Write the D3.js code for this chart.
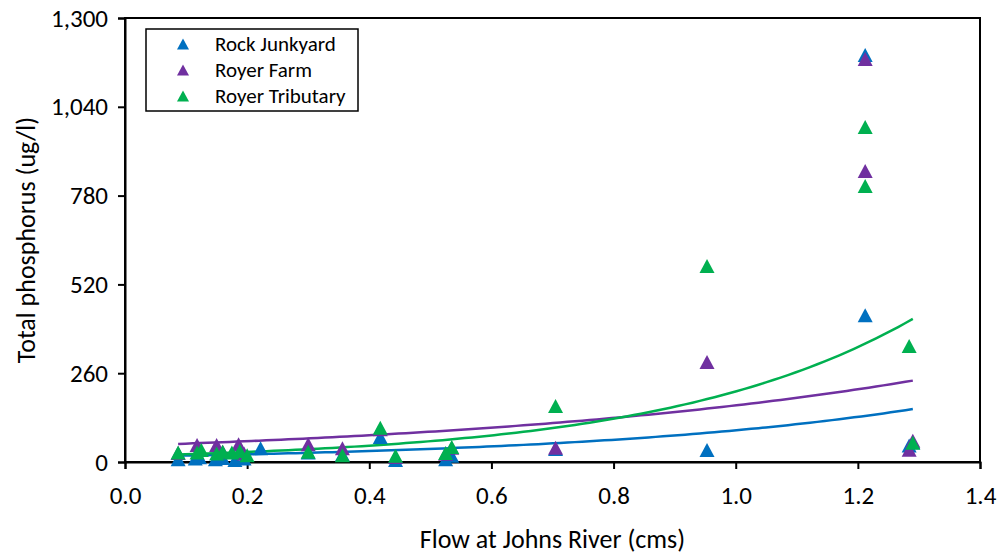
<!DOCTYPE html>
<html>
<head>
<meta charset="utf-8">
<script src="https://cdn.jsdelivr.net/npm/d3@7"></script>
<style>
  html, body { margin: 0; padding: 0; background: #fff; }
  svg { display: block; font-family: Carlito, "Open Sans", sans-serif; }
</style>
</head>
<body>
<svg id="chart" width="1000" height="556"></svg>
<script>
// Series names and colours
const seriesNames = ["Rock Junkyard", "Royer Farm", "Royer Tributary"];
const seriesColors = ["#0070C0", "#7030A0", "#00B050"];

// Rock Junkyard samples: flow (cms) and total phosphorus (ug/l)
const flowRockJunkyard = [0.087, 0.115, 0.122, 0.148, 0.160, 0.180, 0.195, 0.222, 0.300, 0.356, 0.418, 0.443, 0.525, 0.535, 0.705, 0.953, 1.212, 1.212, 1.284, 1.290];
const tpRockJunkyard   = [8, 10, 14, 8, 12, 6, 10, 40, 28, 22, 73, 6, 8, 18, 38, 35, 1192, 430, 48, 58];

// Royer Farm samples
const flowRoyerFarm = [0.087, 0.118, 0.122, 0.150, 0.160, 0.186, 0.195, 0.300, 0.356, 0.418, 0.443, 0.525, 0.535, 0.705, 0.953, 1.212, 1.212, 1.284, 1.290];
const tpRoyerFarm   = [26, 50, 35, 50, 30, 52, 25, 52, 40, 96, 15, 24, 42, 42, 293, 1180, 852, 36, 62];

// Royer Tributary samples
const flowRoyerTributary = [0.087, 0.118, 0.125, 0.150, 0.160, 0.175, 0.188, 0.200, 0.300, 0.356, 0.418, 0.443, 0.525, 0.535, 0.705, 0.953, 1.212, 1.212, 1.284, 1.290];
const tpRoyerTributary   = [28, 28, 35, 25, 30, 28, 32, 20, 30, 20, 100, 18, 26, 44, 164, 574, 981, 808, 340, 56];

// Exponential trendlines, y = a * exp(b * x)
const trendA = [15.8, 47.5, 18.0];
const trendB = [1.77, 1.25, 2.44];

// Axis ticks
const xTicks = [0.0, 0.2, 0.4, 0.6, 0.8, 1.0, 1.2, 1.4];
const yTicks = [0, 260, 520, 780, 1040, 1300];

const flows = [flowRockJunkyard, flowRoyerFarm, flowRoyerTributary];
const tps = [tpRockJunkyard, tpRoyerFarm, tpRoyerTributary];
const series = seriesNames.map((name, i) => ({
  name,
  color: seriesColors[i],
  a: trendA[i],
  b: trendB[i],
  points: flows[i].map((f, j) => ({ x: f, y: tps[i][j] }))
}));

const plot = { left: 125, right: 980, top: 18, bottom: 462 };
const svg = d3.select("#chart");

const x = d3.scaleLinear().domain([0, 1.4]).range([plot.left, plot.right]);
const y = d3.scaleLinear().domain([0, 1300]).range([plot.bottom, plot.top]);

// Plot frame
svg.append("rect")
  .attr("x", plot.left).attr("y", plot.top)
  .attr("width", plot.right - plot.left).attr("height", plot.bottom - plot.top)
  .attr("fill", "none").attr("stroke", "#000").attr("stroke-width", 2);

// Axes
const xAxis = svg.append("g")
  .attr("transform", `translate(0,${plot.bottom})`)
  .call(d3.axisBottom(x).tickValues(xTicks).tickFormat(d3.format(".1f")).tickSize(7).tickPadding(17));
const yAxis = svg.append("g")
  .attr("transform", `translate(${plot.left},0)`)
  .call(d3.axisLeft(y).tickValues(yTicks).tickFormat(d3.format(",")).tickSize(7).tickPadding(10));
[xAxis, yAxis].forEach(g => {
  g.select(".domain").attr("stroke", "#000").attr("stroke-width", 2);
  g.selectAll(".tick line").attr("stroke", "#000").attr("stroke-width", 2);
  g.selectAll(".tick text").attr("fill", "#000").style("font-size", "25px").style("font-family", "Carlito, 'Open Sans', sans-serif");
});

// Axis titles
svg.append("text")
  .attr("x", (plot.left + plot.right) / 2).attr("y", 548)
  .attr("text-anchor", "middle").style("font-size", "26px").text("Flow at Johns River (cms)");
svg.append("text")
  .attr("transform", `translate(35,${(plot.top + plot.bottom) / 2}) rotate(-90)`)
  .attr("text-anchor", "middle").style("font-size", "26px").text("Total phosphorus (ug/l)");

// Trendlines
const line = d3.line().x(d => x(d.x)).y(d => y(d.y)).curve(d3.curveLinear);
series.forEach(s => {
  const [x0, x1] = d3.extent(s.points, d => d.x);
  const pts = d3.range(0, 101).map(k => {
    const xv = x0 + (x1 - x0) * k / 100;
    return { x: xv, y: s.a * Math.exp(s.b * xv) };
  });
  svg.append("path").datum(pts)
    .attr("d", line).attr("fill", "none")
    .attr("stroke", s.color).attr("stroke-width", 2.5);
});

// Triangle marker centred on its bounding box
function triangle(w, h) {
  return `M0,${-h / 2}L${w / 2},${h / 2}L${-w / 2},${h / 2}Z`;
}

series.forEach(s => {
  svg.append("g").selectAll("path").data(s.points).join("path")
    .attr("d", triangle(15, 14))
    .attr("transform", d => `translate(${x(d.x)},${y(d.y)})`)
    .attr("fill", s.color);
});

// Legend
const legend = svg.append("g");
legend.append("rect")
  .attr("x", 146).attr("y", 29).attr("width", 212).attr("height", 82)
  .attr("fill", "#fff").attr("stroke", "#000").attr("stroke-width", 1.5);
series.forEach((s, i) => {
  const cy = 44 + i * 26;
  legend.append("path").attr("d", triangle(12, 11))
    .attr("transform", `translate(183,${cy})`).attr("fill", s.color);
  legend.append("text").attr("x", 215).attr("y", cy + 7)
    .style("font-size", "21px").text(s.name);
});
</script>
</body>
</html>
